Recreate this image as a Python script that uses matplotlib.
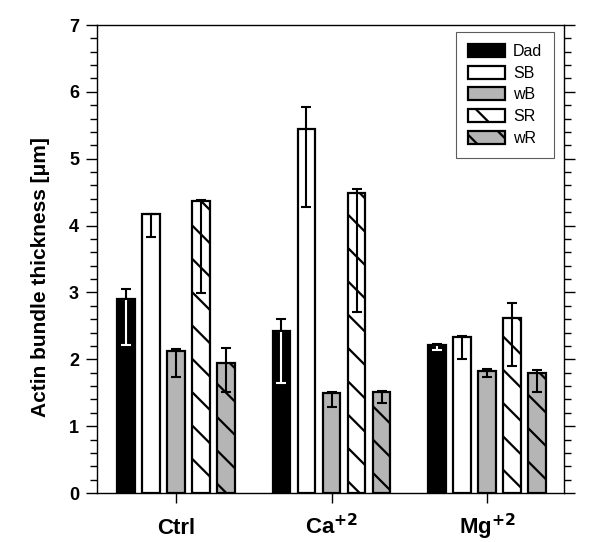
import matplotlib
matplotlib.use("Agg")
import matplotlib.pyplot as plt
import numpy as np
from matplotlib.ticker import MultipleLocator

categories = ["Ctrl", "Ca$^{\\mathbf{+2}}$", "Mg$^{\\mathbf{+2}}$"]
series = ["Dad", "SB", "wB", "SR", "wR"]

# bar values per series (Ctrl, Ca, Mg)
dad = [2.90, 2.43, 2.22]
sb = [4.17, 5.45, 2.34]
wb = [2.13, 1.50, 1.83]
sr = [4.37, 4.49, 2.62]
wr = [1.95, 1.51, 1.79]

# error bar upper / lower ends
dad_hi = [3.05, 2.60, 2.23]
dad_lo = [2.22, 1.64, 2.14]
sb_hi = [4.18, 5.78, 2.35]
sb_lo = [3.83, 4.28, 2.00]
wb_hi = [2.16, 1.51, 1.85]
wb_lo = [1.73, 1.28, 1.74]
sr_hi = [4.38, 4.54, 2.84]
sr_lo = [2.99, 2.71, 1.90]
wr_hi = [2.17, 1.53, 1.84]
wr_lo = [1.51, 1.35, 1.51]

values = [dad, sb, wb, sr, wr]
highs = [dad_hi, sb_hi, wb_hi, sr_hi, wr_hi]
lows = [dad_lo, sb_lo, wb_lo, sr_lo, wr_lo]

gray = "#b5b5b5"
fills = ["black", "white", gray, "white", gray]
hatches = [None, None, None, "\\", "\\"]

plt.rcParams["font.family"] = ["Liberation Sans", "DejaVu Sans"]
plt.rcParams["hatch.linewidth"] = 1.6
plt.rcParams["hatch.color"] = "black"

fig = plt.figure(figsize=(6.0, 5.42), dpi=100)
ax = fig.add_axes([97 / 600, 1 - 493 / 542, 467 / 600, 468 / 542])

x = np.arange(len(categories))
pitch = 0.161
width = 0.114
offsets = (np.arange(len(series)) - 2) * pitch

handles = []
for i, name in enumerate(series):
    xs = x + offsets[i]
    b = ax.bar(xs, values[i], width=width, color=fills[i], edgecolor="black",
               linewidth=1.6, hatch=hatches[i], label=name, zorder=2)
    handles.append(b)
    v = np.array(values[i])
    hi = np.array(highs[i])
    lo = np.array(lows[i])
    if fills[i] == "black":
        ax.errorbar(xs, v, yerr=[v - lo, np.zeros_like(v)], fmt="none",
                    ecolor="white", elinewidth=1.5, capsize=3.5, capthick=1.5,
                    zorder=4)
        ax.errorbar(xs, v, yerr=[np.zeros_like(v), hi - v], fmt="none",
                    ecolor="black", elinewidth=1.5, capsize=3.5, capthick=1.5,
                    zorder=5)
    else:
        ax.errorbar(xs, v, yerr=[v - lo, hi - v], fmt="none", ecolor="black",
                    elinewidth=1.5, capsize=3.5, capthick=1.5, zorder=3)

ax.set_xlim(-0.508, 2.495)
ax.set_ylim(0, 7)
ax.set_xticks(x)
ax.set_xticklabels(categories, fontsize=16, fontweight="bold", va="baseline")
ax.yaxis.set_major_locator(MultipleLocator(1))
ax.yaxis.set_minor_locator(MultipleLocator(0.2))
ax.tick_params(axis="y", which="major", length=8, width=1, labelsize=13,
               pad=5, right=True, direction="out")
ax.tick_params(axis="y", which="minor", length=5, width=1, right=True,
               direction="out")
ax.tick_params(axis="x", which="major", length=7, width=1, pad=22.5)
for lab in ax.get_yticklabels():
    lab.set_fontweight("bold")
for s in ax.spines.values():
    s.set_linewidth(1.0)

ax.set_ylabel("Actin bundle thickness [\u03bcm]", fontsize=15,
              fontweight="bold")
ax.yaxis.set_label_coords(-0.101, 0.4615)

leg = ax.legend(handles=handles, loc="upper right",
                bbox_to_anchor=(1 - 10 / 467, 1 - 7 / 468), borderaxespad=0,
                fontsize=11.5, frameon=True, fancybox=False, edgecolor="#333333",
                handlelength=2.3, handleheight=0.85, labelspacing=0.42,
                handletextpad=0.5, borderpad=0.75)
leg.get_frame().set_linewidth(0.8)

fig.savefig("out.png", dpi=100)
